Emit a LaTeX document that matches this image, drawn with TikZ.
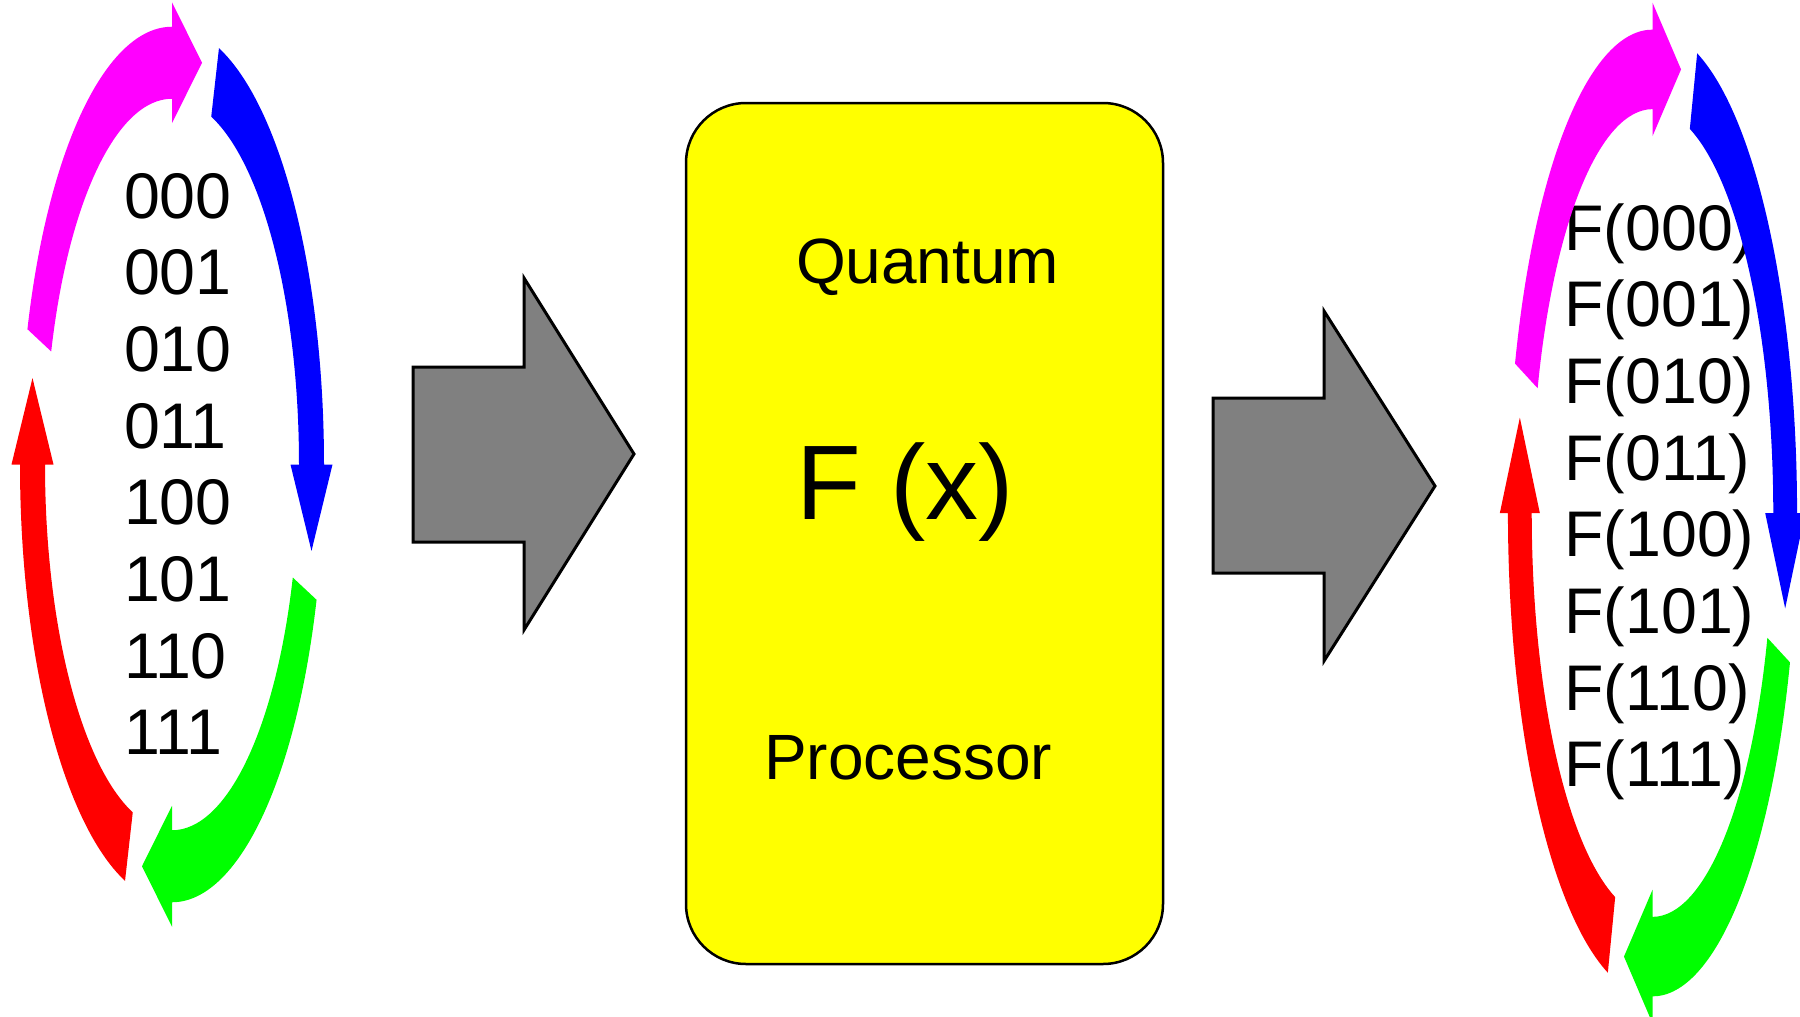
\documentclass[tikz,border=0pt]{standalone}
\usepackage{fontspec}
\setmainfont{Liberation Sans}
\definecolor{mag}{RGB}{255,0,255}
\definecolor{blu}{RGB}{0,0,255}
\definecolor{grn}{RGB}{0,255,0}
\definecolor{rd}{RGB}{255,0,0}
\definecolor{yel}{RGB}{255,255,0}
\definecolor{gry}{RGB}{128,128,128}
\newcommand\ringarrow[2]{%
  \pgfmathsetmacro\rgA{#2}\pgfmathsetmacro\rgB{#2-72}\pgfmathsetmacro\rgC{#2-84.137}%
  \fill[#1] (\rgA:152) arc[start angle=\rgA, end angle=\rgB, radius=152]
    -- (\rgB:160.5) -- (\rgC:142.69) -- (\rgB:118.5) -- (\rgB:127)
    arc[start angle=\rgB, end angle=\rgA, radius=127] -- cycle;}
\newcommand\ringset{%
  \ringarrow{mag}{162}\ringarrow{blu}{72}\ringarrow{grn}{-18}\ringarrow{rd}{-108}}
\begin{document}
\begin{tikzpicture}[x=1pt,y=1pt,
  lbl/.style={anchor=base west,inner sep=0pt,outer sep=0pt},
  bits/.style={lbl,font=\fontsize{64.5}{76.7}\selectfont},
  boxtxt/.style={lbl,font=\fontsize{64}{76}\selectfont},
  bigtxt/.style={lbl,font=\fontsize{106}{120}\selectfont},
  grayarrow/.style={draw=black,fill=gry,line width=3pt,line join=miter},
  procbox/.style={draw=black,fill=yel,line width=2.5pt,rounded corners=60pt}]
\useasboundingbox (0,0) rectangle (1800,-1017);
% left ring text
\foreach \t [count=\i from 0] in {000,001,010,011,100,101,110,111}
  \node[bits] (in\i) at (124,{-218-76.7*\i}) {\t};
% left ring arrows
\begin{scope}[shift={(172,-464.5)},yscale=2.88]
  \ringset
\end{scope}
% gray arrow 1
\draw[grayarrow] (413,-367) -- (524,-367) -- (524,-278) -- (634,-454)
  -- (524,-630) -- (524,-542) -- (413,-542) -- cycle;
% processor box
\draw[procbox] (686,-103) rectangle (1163,-964);
\node[boxtxt] (quantum) at (796,-283) {Quantum};
\node[bigtxt] (fx) at (796,-519) {F (x)};
\node[boxtxt] (processor) at (764,-779) {Processor};
% gray arrow 2
\draw[grayarrow] (1213,-398) -- (1324,-398) -- (1324,-311) -- (1435,-486)
  -- (1324,-661) -- (1324,-573) -- (1213,-573) -- cycle;
% right ring text
\foreach \t [count=\i from 0] in {000,001,010,011,100,101,110,111}
  \node[bits] (out\i) at (1564.5,{-250-76.7*\i}) {F(\t)};
% right ring arrows
\begin{scope}[shift={(1652.5,-513)},xscale=0.951,yscale=3.18]
  \ringset
\end{scope}
\end{tikzpicture}
\end{document}
